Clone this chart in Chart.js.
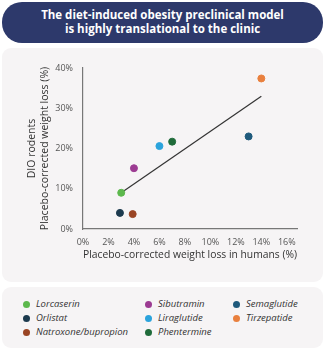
<!DOCTYPE html>
<html>
<head>
<meta charset="utf-8">
<script src="https://cdn.jsdelivr.net/npm/chart.js@4"></script>
<style>
  body { margin: 0; width: 325px; height: 350px; background: #fff; position: relative; overflow: hidden;
         font-family: "Open Sans", sans-serif; }
  #titre { position: absolute; left: 2px; top: 2px; width: 321px; height: 41px; background: #2d396b;
           border-radius: 20px; color: #fff; font-weight: 700; font-size: 11.5px; line-height: 14px;
           text-align: center; box-sizing: border-box; padding-top: 6px; }
  #painel { position: absolute; left: 2px; top: 48px; width: 321px; height: 234px; background: #f6f4f5; border-radius: 9px; }
  #grafico { position: absolute; left: 0; top: 48px; }
  #legenda { position: absolute; left: 2px; top: 287px; width: 321px; height: 61px; background: #f6f4f5; border-radius: 9px; }
  .item { position: absolute; font-style: italic; font-size: 9.5px; color: #333; white-space: nowrap; line-height: 12px; }
  .item span { position: absolute; left: -13px; top: 2.5px; width: 7px; height: 7px; border-radius: 50%; }
</style>
</head>
<body>
<div id="titre">The diet-induced obesity preclinical model<br>is highly translational to the clinic</div>
<div id="painel"></div>
<canvas id="grafico" width="325" height="234"></canvas>
<div id="legenda"></div>
<script>
const farmacos = ["Lorcaserin", "Orlistat", "Natroxone/bupropion", "Sibutramin", "Liraglutide", "Phentermine", "Semaglutide", "Tirzepatide"];
const perdaHumanos = [3, 2.9, 3.9, 4, 6, 7, 13, 14];
const perdaRoedores = [9, 4, 3.7, 15.1, 20.6, 21.7, 23, 37.4];
const cores = ["#5cb84c", "#1c3a4e", "#9a4524", "#9c3b92", "#2ba3dc", "#1f6b3a", "#1f5a7c", "#e9803e"];
const tendenciaX = [3, 14];
const tendenciaY = [9, 33];
const ticksX = [0, 2, 4, 6, 8, 10, 12, 14, 16];

Chart.defaults.font.family = "'Open Sans', sans-serif";

const grafico = document.getElementById("grafico");

const conjuntos = farmacos.map((nome, i) => ({
  type: "scatter",
  label: nome,
  data: [{ x: perdaHumanos[i], y: perdaRoedores[i] }],
  backgroundColor: cores[i],
  borderColor: cores[i],
  pointRadius: 3.5,
  order: 0,
}));

conjuntos.push({
  type: "line",
  label: "tendencia",
  data: tendenciaX.map((x, i) => ({ x: x, y: tendenciaY[i] })),
  borderColor: "#333333",
  borderWidth: 1.2,
  pointRadius: 0,
  order: 10,
});

new Chart(grafico, {
  data: { datasets: conjuntos },
  options: {
    responsive: false,
    animation: false,
    layout: { padding: { left: 0, right: 28, top: 20, bottom: 0 } },
    plugins: { legend: { display: false }, tooltip: { enabled: false } },
    scales: {
      x: {
        type: "linear",
        min: 0,
        max: 16.8,
        afterBuildTicks: (eixo) => { eixo.ticks = ticksX.map((v) => ({ value: v })); },
        afterFit: (eixo) => { eixo.height = 53; },
        grid: { display: false, drawTicks: false },
        border: { color: "#777777", width: 1.2 },
        ticks: { color: "#555555", font: { size: 9 }, padding: 8, callback: (v) => v + "%" },
        title: { display: true, text: "Placebo-corrected weight loss in humans (%)", color: "#333333",
                 font: { size: 10.5 }, padding: { top: 2, bottom: 21 } },
      },
      y: {
        min: 0,
        max: 40,
        afterFit: (eixo) => { eixo.width = 83; },
        grid: { display: false, drawTicks: false },
        border: { color: "#777777", width: 1.2 },
        ticks: { color: "#555555", font: { size: 9 }, stepSize: 10, padding: 10, callback: (v) => v + "%" },
        title: { display: true, text: ["DIO rodents", "Placebo-corrected weight loss (%)"], color: "#333333",
                 font: { size: 10.5 }, padding: { top: 26, bottom: 4 } },
      },
    },
  },
});

// legenda em colunas
const legenda = document.getElementById("legenda");
const colunasX = [34, 156, 244];
farmacos.forEach((nome, i) => {
  const col = Math.floor(i / 3);
  const lin = i % 3;
  const item = document.createElement("div");
  item.className = "item";
  item.style.left = colunasX[col] + "px";
  item.style.top = (11 + lin * 14) + "px";
  item.innerHTML = '<span style="background:' + cores[i] + '"></span>' + nome;
  legenda.appendChild(item);
});
</script>
</body>
</html>
